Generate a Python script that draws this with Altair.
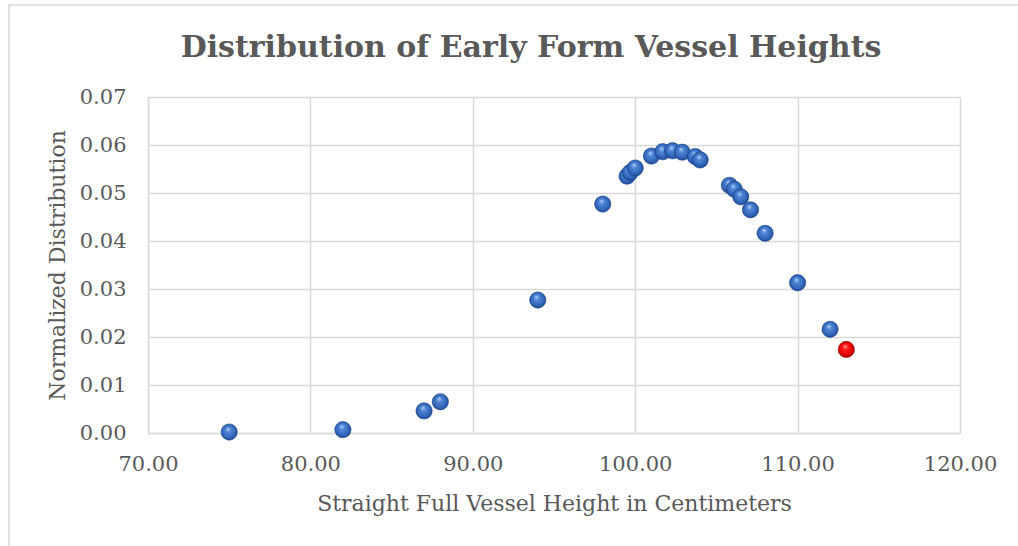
import altair as alt
import pandas as pd

# Data
heights = [75.0, 82.0, 87.0, 88.0, 94.0, 98.0, 99.5, 99.7, 100.0, 101.0, 101.7,
           102.3, 102.9, 103.7, 104.0, 105.8, 106.1, 106.5, 107.1, 108.0, 110.0, 112.0]
dist = [0.0002, 0.0007, 0.0046, 0.0065, 0.0277, 0.0477, 0.0535, 0.0543, 0.0552,
        0.0577, 0.0586, 0.0588, 0.0585, 0.0576, 0.0569, 0.0516, 0.0508, 0.0492,
        0.0465, 0.0416, 0.0313, 0.0216]
hl_height = [113.0]
hl_dist = [0.0174]
title_text = ["Distribution of Early Form Vessel Heights"]

df = pd.DataFrame({"h": heights, "d": dist})
df_hl = pd.DataFrame({"h": hl_height, "d": hl_dist})

FONT = "DejaVu Serif"
GREY = "#595959"
GRID = "#d9d9d9"

blue_grad = {
    "gradient": "radial",
    "x1": 0.42, "y1": 0.3, "r1": 0.0,
    "x2": 0.5, "y2": 0.5, "r2": 0.55,
    "stops": [
        {"offset": 0.0, "color": "#b8d4f7"},
        {"offset": 0.3, "color": "#4f85d6"},
        {"offset": 0.75, "color": "#2f63b5"},
        {"offset": 1.0, "color": "#173a78"},
    ],
}
red_grad = {
    "gradient": "radial",
    "x1": 0.42, "y1": 0.3, "r1": 0.0,
    "x2": 0.5, "y2": 0.5, "r2": 0.55,
    "stops": [
        {"offset": 0.0, "color": "#ffa8a8"},
        {"offset": 0.3, "color": "#ff1a1a"},
        {"offset": 0.75, "color": "#e00000"},
        {"offset": 1.0, "color": "#8a0000"},
    ],
}

x_enc = alt.X(
    "h:Q",
    scale=alt.Scale(domain=[70, 120], nice=False, zero=False),
    axis=alt.Axis(
        values=[70, 80, 90, 100, 110, 120],
        format=".2f",
        title="Straight Full Vessel Height in Centimeters",
        labelFlush=False,
    ),
)
y_enc = alt.Y(
    "d:Q",
    scale=alt.Scale(domain=[0, 0.07], nice=False),
    axis=alt.Axis(
        values=[0, 0.01, 0.02, 0.03, 0.04, 0.05, 0.06, 0.07],
        format=".2f",
        title="Normalized Distribution",
        labelFlush=False,
    ),
)

border = alt.Chart(pd.DataFrame({"k": [0]})).mark_rect(
    fill=None, stroke=GRID, strokeWidth=1.5
).encode(
    x=alt.value(-139), x2=alt.value(880), y=alt.value(-92), y2=alt.value(459)
)

title = alt.Chart(pd.DataFrame({"t": title_text})).mark_text(
    font=FONT, fontSize=30, fontWeight="bold", color=GREY,
    align="center", baseline="middle",
).encode(text="t:N", x=alt.value(383), y=alt.value(-49))

pts = alt.Chart(df).mark_circle(
    size=265, opacity=1, color=blue_grad, stroke="#1b4690", strokeWidth=0.6
).encode(x=x_enc, y=y_enc)

hl = alt.Chart(df_hl).mark_circle(
    size=265, opacity=1, color=red_grad, stroke="#900000", strokeWidth=0.6
).encode(x="h:Q", y="d:Q")

chart = alt.layer(border, title, pts, hl).properties(
    width=812,
    height=336,
    autosize=alt.AutoSizeParams(type="none"),
    padding={"left": 148, "top": 97, "right": 58, "bottom": 113},
).configure_view(
    stroke=None
).configure_axis(
    labelFont=FONT, labelFontSize=21, labelColor=GREY,
    titleFont=FONT, titleFontSize=22, titleColor=GREY, titleFontWeight="normal",
    gridColor=GRID, gridWidth=1.5, domainColor=GRID, domainWidth=1.5,
    ticks=False,
).configure_axisY(
    titlePadding=10, labelPadding=22,
).configure_axisX(
    titlePadding=19, labelPadding=20,
)

chart.save("out.html", embed_options={"renderer": "svg", "actions": False})
